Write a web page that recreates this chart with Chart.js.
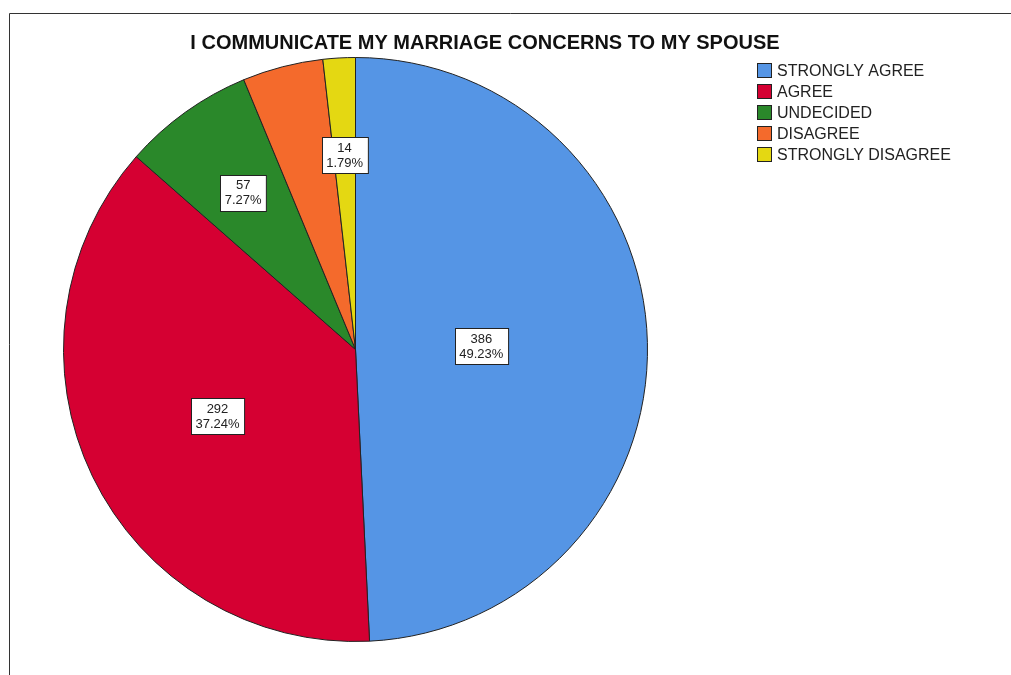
<!DOCTYPE html>
<html lang="en">
<head>
  <meta charset="UTF-8" />
  <title>I Communicate My Marriage Concerns To My Spouse</title>
  <script src="https://cdn.jsdelivr.net/npm/chart.js"></script>
  <style>
    html, body { margin: 0; padding: 0; background: #fff; }
    #marco { width: 1011px; height: 675px; position: relative; }
  </style>
</head>
<body>
  <div id="marco">
    <canvas id="graficoPastel"></canvas>
  </div>

  <script>
    const titulo = 'I COMMUNICATE MY MARRIAGE CONCERNS TO MY SPOUSE';
    const categorias = ['STRONGLY AGREE', 'AGREE', 'UNDECIDED', 'DISAGREE', 'STRONGLY DISAGREE'];
    const frecuencias = [386, 292, 57, 35, 14];
    const colores = ['#5595e5', '#d50032', '#2a882a', '#f46a2c', '#e4d812'];

    const fuente = 'Arial, "Liberation Sans", sans-serif';
    const total = frecuencias.reduce((a, b) => a + b, 0);

    // marco, titulo, leyenda y etiquetas estilo SPSS
    const extras = {
      id: 'extras',
      afterDraw(chart) {
        const ctx = chart.ctx;
        ctx.save();

        // marco
        ctx.strokeStyle = '#333';
        ctx.lineWidth = 1;
        ctx.beginPath();
        ctx.moveTo(9.5, 676);
        ctx.lineTo(9.5, 13.5);
        ctx.lineTo(1012, 13.5);
        ctx.stroke();

        // titulo
        ctx.fillStyle = '#111';
        ctx.font = 'bold 20px ' + fuente;
        ctx.textAlign = 'center';
        ctx.textBaseline = 'middle';
        ctx.fillText(titulo, 485, 43);

        // leyenda
        ctx.font = '16px ' + fuente;
        ctx.textAlign = 'left';
        chart.data.labels.forEach((lab, i) => {
          const y = 63 + i * 21;
          ctx.fillStyle = colores[i];
          ctx.fillRect(757.5, y + 0.5, 14, 14);
          ctx.strokeStyle = '#222';
          ctx.strokeRect(757.5, y + 0.5, 14, 14);
          ctx.fillStyle = '#222';
          ctx.fillText(lab, 777, y + 8.5);
        });

        // etiquetas en el centroide de cada sector
        const ocultas = chart.options.plugins.extras.ocultas;
        const arcos = chart.getDatasetMeta(0).data;
        ctx.font = '13px ' + fuente;
        ctx.textAlign = 'center';
        arcos.forEach((arc, i) => {
          if (ocultas.includes(i)) return;
          const { x, y, startAngle, endAngle, outerRadius } = arc.getProps(['x', 'y', 'startAngle', 'endAngle', 'outerRadius'], true);
          const medio = (startAngle + endAngle) / 2;
          const alfa = (endAngle - startAngle) / 2;
          const d = 2 * outerRadius * Math.sin(alfa) / (3 * alfa);
          const cx = x + d * Math.cos(medio);
          const cy = y + d * Math.sin(medio);
          const l1 = String(frecuencias[i]);
          const l2 = (frecuencias[i] / total * 100).toFixed(2) + '%';
          const w = Math.max(ctx.measureText(l1).width, ctx.measureText(l2).width) + 9;
          const h = 36;
          const bx = Math.round(cx - w / 2) + 0.5;
          const by = Math.round(cy - h / 2) + 0.5;
          ctx.fillStyle = '#fff';
          ctx.fillRect(bx, by, w, h);
          ctx.strokeStyle = '#222';
          ctx.strokeRect(bx, by, w, h);
          ctx.fillStyle = '#222';
          ctx.fillText(l1, cx, cy - 7);
          ctx.fillText(l2, cx, cy + 8);
        });

        ctx.restore();
      }
    };

    new Chart(document.getElementById('graficoPastel'), {
      type: 'pie',
      data: {
        labels: categorias,
        datasets: [{
          data: frecuencias,
          backgroundColor: colores,
          borderColor: '#222',
          borderWidth: 1
        }]
      },
      options: {
        responsive: true,
        maintainAspectRatio: false,
        animation: false,
        layout: {
          padding: { top: 57, bottom: 33, left: 63, right: 363 }
        },
        plugins: {
          legend: { display: false },
          tooltip: { enabled: false },
          extras: { ocultas: [3] }
        }
      },
      plugins: [extras]
    });
  </script>
</body>
</html>
